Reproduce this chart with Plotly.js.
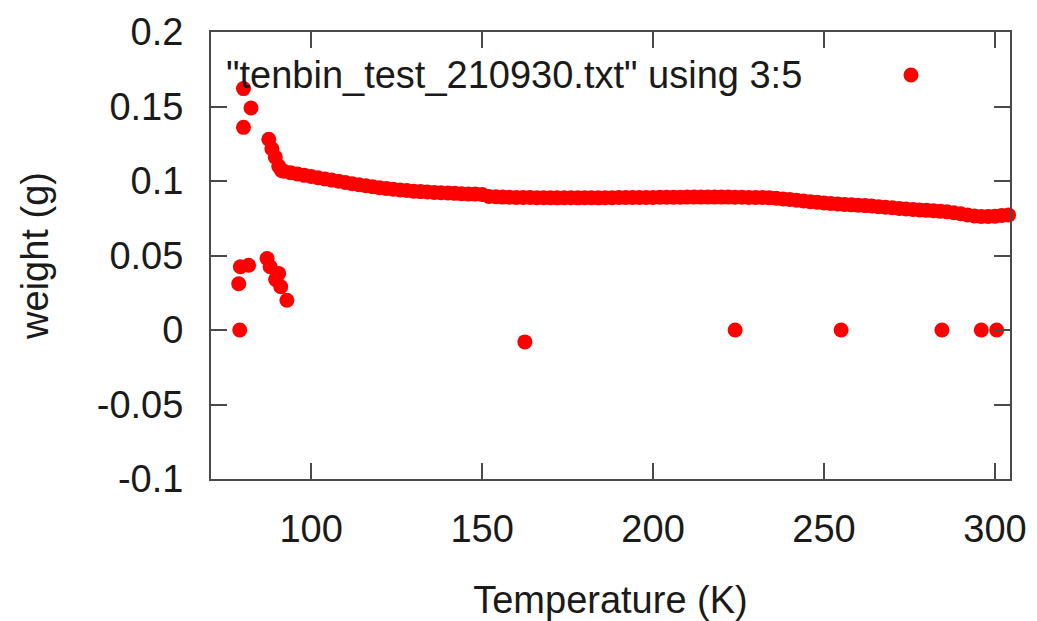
<!DOCTYPE html>
<html><head><meta charset="utf-8">
<script src="https://cdn.plot.ly/plotly-3.0.1.min.js"></script>
<style>html,body{margin:0;padding:0;background:#fff}#chart{width:1037px;height:621px}</style>
</head><body><div id="chart"></div>
<script>
const seriesName = '"tenbin_test_210930.txt" using 3:5';
const xTitle = 'Temperature (K)';
const yTitle = 'weight (g)';
const xTickVals = [100, 150, 200, 250, 300];
const yTickVals = [-0.1, -0.05, 0, 0.05, 0.1, 0.15, 0.2];
const yTickText = ['-0.1', '-0.05', '0', '0.05', '0.1', '0.15', '0.2'];

// early high readings
const highT = [80.2, 82.4, 80.2, 87.6, 88.5, 89.5, 90.5, 91.3];
const highW = [0.162, 0.149, 0.136, 0.128, 0.1216, 0.116, 0.110, 0.107];
// early low readings
const lowT = [78.8, 79.3, 81.7, 87.1, 88.0, 89.6, 90.5, 91.1, 92.9];
const lowW = [0.031, 0.0424, 0.0435, 0.048, 0.0424, 0.034, 0.038, 0.029, 0.020];
// zero / dropout readings
const zeroT = [79.1, 162.5, 224, 255, 284.5, 296, 300.5];
const zeroW = [0.0, -0.008, 0.0, 0.0, 0.0, 0.0, 0.0];
// main slowly decreasing curve
const mainT = [92,94,96,98,100,102,104,106,108,110,112,114,116,118,120,122,124,126,128,130,
  132,134,136,138,140,142,144,146,148,150,152,154,156,158,160,162,164,166,168,170,
  172,174,176,178,180,182,184,186,188,190,192,194,196,198,200,202,204,206,208,210,
  212,214,216,218,220,222,224,226,228,230,232,234,236,238,240,242,244,246,248,250,
  252,254,256,258,260,262,264,266,268,270,272,274,276,278,280,282,284,286,288,290,
  292,294,296,298,300,302,304];
const mainW = [0.1066,0.1056,0.1047,0.1038,0.1030,0.1022,0.1014,0.1006,0.0998,0.0990,
  0.0982,0.0975,0.0968,0.0961,0.0955,0.0950,0.0945,0.0940,0.0936,0.0932,
  0.0929,0.0926,0.0923,0.0921,0.0919,0.0917,0.0915,0.0913,0.0912,0.0910,
  0.0896,0.0894,0.0892,0.0891,0.0890,0.0889,0.0889,0.0888,0.0888,0.0888,
  0.0887,0.0888,0.0888,0.0887,0.0888,0.0888,0.0887,0.0888,0.0888,0.0889,
  0.0889,0.0889,0.0890,0.0890,0.0890,0.0891,0.0891,0.0891,0.0891,0.0892,
  0.0892,0.0892,0.0892,0.0892,0.0892,0.0892,0.0891,0.0891,0.0890,0.0890,
  0.0889,0.0887,0.0884,0.0880,0.0876,0.0871,0.0866,0.0861,0.0857,0.0853,
  0.0849,0.0846,0.0843,0.0840,0.0838,0.0835,0.0832,0.0828,0.0824,0.0820,
  0.0816,0.0812,0.0809,0.0806,0.0803,0.0800,0.0797,0.0793,0.0787,0.0780,
  0.0772,0.0765,0.0762,0.0762,0.0764,0.0768,0.0772];

const allT = highT.concat(lowT, zeroT, mainT);
const allW = highW.concat(lowW, zeroW, mainW);

const FONT = 'Liberation Sans, Arial, Helvetica, sans-serif';
const FS = 38;
const axisColor = '#4a4a4a';
const textColor = '#1a1a1a';

const trace = {
  x: allT, y: allW, type: 'scatter', mode: 'markers', name: seriesName,
  marker: {color: '#ff0000', size: 15, line: {width: 0}},
  cliponaxis: false, showlegend: false, hoverinfo: 'x+y'
};

const W = 1037, H = 621;
const M = {l: 211, r: 27, t: 32, b: 142};
const pw = W - M.l - M.r, ph = H - M.t - M.b;
const keyTextX = 224, keyY = 75, keySymX = 911, keyR = 7.5;

const layout = {
  width: W, height: H,
  margin: M,
  paper_bgcolor: '#fff', plot_bgcolor: '#fff',
  font: {family: FONT, size: FS, color: textColor},
  showlegend: false,
  xaxis: {
    range: [70.7, 304.4], tickvals: xTickVals, ticktext: xTickVals.map(String),
    ticks: 'inside', ticklen: 16, tickwidth: 2, tickcolor: axisColor,
    showline: true, linecolor: axisColor, linewidth: 2, mirror: 'ticks',
    showgrid: false, zeroline: false,
    tickfont: {family: FONT, size: FS, color: textColor},
    ticklabelstandoff: 15,
    title: {text: xTitle, font: {family: FONT, size: FS, color: textColor}, standoff: 38}
  },
  yaxis: {
    range: [-0.1, 0.2], tickvals: yTickVals, ticktext: yTickText,
    ticks: 'inside', ticklen: 16, tickwidth: 2, tickcolor: axisColor,
    showline: true, linecolor: axisColor, linewidth: 2, mirror: 'ticks',
    showgrid: false, zeroline: false,
    tickfont: {family: FONT, size: FS, color: textColor},
    ticklabelstandoff: 18,
    title: {text: yTitle, font: {family: FONT, size: FS, color: textColor}, standoff: 36}
  },
  annotations: [{
    text: seriesName, xref: 'paper', yref: 'paper',
    x: (keyTextX - M.l) / pw, y: (H - M.b - keyY) / ph,
    xanchor: 'left', yanchor: 'middle', showarrow: false,
    font: {family: FONT, size: FS, color: textColor}
  }],
  shapes: [{
    type: 'circle', xref: 'paper', yref: 'paper',
    x0: (keySymX - keyR - M.l) / pw, x1: (keySymX + keyR - M.l) / pw,
    y0: (H - M.b - keyY - keyR) / ph, y1: (H - M.b - keyY + keyR) / ph,
    fillcolor: '#ff0000', line: {width: 0}
  }]
};

Plotly.newPlot('chart', [trace], layout, {staticPlot: true, displayModeBar: false});
</script>
</body></html>
